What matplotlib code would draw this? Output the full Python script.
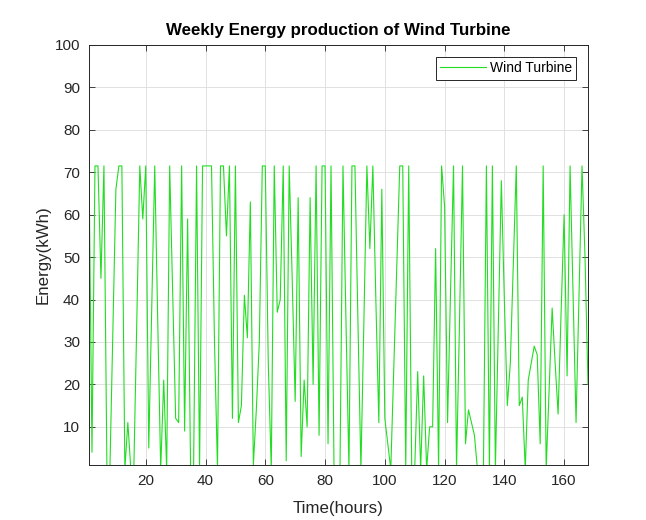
import numpy as np
import matplotlib
matplotlib.use('Agg')
import matplotlib.pyplot as plt

# hourly energy of the wind turbine (kWh)
hours = np.arange(1, 169)
energy = [
    71.5, 4, 71.5, 71.5, 45, 71.5, 0, 0, 33, 66,
    71.5, 71.5, 0, 11, 0, 0, 35, 71.5, 59, 71.5,
    5, 38, 71.5, 35, 0, 21, 0, 71.5, 42, 12,
    11, 71.5, 9, 59, 0, 0, 71.5, 0, 71.5, 71.5,
    71.5, 71.5, 30, 0, 71.5, 71.5, 55, 71.5, 12, 71.5,
    11, 15, 41, 31, 63, 1, 14, 30, 71.5, 71.5,
    25, 0, 71.5, 37, 40, 71.5, 2, 71.5, 45, 16,
    64, 3, 21, 10, 64, 20, 71.5, 8, 71.5, 71.5,
    6, 71.5, 0, 0, 0, 71.5, 35, 0, 71.5, 71.5,
    35, 0, 35, 71.5, 52, 71.5, 40, 11, 66, 12,
    6, 0, 24, 48, 71.5, 71.5, 0, 71.5, 0, 0,
    23, 0, 22, 0, 10, 10, 52, 0, 71.5, 62,
    11, 42, 71.5, 0, 35, 71.5, 6, 14, 11, 8,
    0, 0, 0, 71.5, 0, 71.5, 0, 34, 68, 40,
    15, 25, 48, 71.5, 15, 17, 0, 21, 25, 29,
    27, 6, 71.5, 0, 19, 38, 25, 13, 37, 60,
    22, 71.5, 41, 11, 41, 71.5, 50, 20,
]

plt.rcParams['font.family'] = ['Liberation Sans', 'DejaVu Sans']

fig = plt.figure(figsize=(6.46, 5.2), dpi=100)
ax = fig.add_axes([89 / 646, 1 - 465 / 520, 499 / 646, 420 / 520])

ax.plot(hours, energy, color='#22dd22', linewidth=0.8, label='Wind Turbine')

ax.set_xlim(1, 168)
ax.set_ylim(1, 100)
ax.set_xticks(np.arange(20, 161, 20))
ax.set_yticks(np.arange(10, 101, 10))
ax.tick_params(direction='in', top=True, right=True, labelsize=11,
               length=4, width=0.6, colors='#262626', pad=6.5)
ax.grid(True, color='#dcdcdc', linewidth=0.6)
ax.set_axisbelow(True)
for s in ax.spines.values():
    s.set_color('#262626')
    s.set_linewidth(0.7)

ax.set_title('Weekly Energy production of Wind Turbine', fontsize=12.2,
             fontweight='bold', pad=7)
ax.set_xlabel('Time(hours)', fontsize=12.2, color='#262626', labelpad=9)
ax.set_ylabel('Energy(kWh)', fontsize=12.2, color='#262626', labelpad=3)

leg = ax.legend(loc='upper right', fontsize=10, fancybox=False,
                framealpha=1, borderpad=0.3, handlelength=3.3,
                handletextpad=0.3, borderaxespad=0,
                bbox_to_anchor=(0.976, 0.971))
leg.get_frame().set_edgecolor('#262626')
leg.get_frame().set_linewidth(0.7)

fig.savefig('out.png', dpi=100)
